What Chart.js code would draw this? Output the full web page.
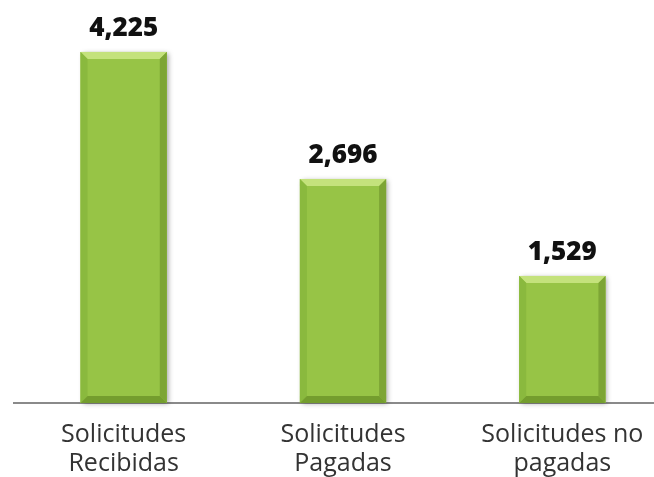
<!DOCTYPE html>
<html>
<head>
<meta charset="utf-8">
<script src="https://cdn.jsdelivr.net/npm/chart.js@4"></script>
<style>
  html, body { margin: 0; padding: 0; background: #fff; overflow: hidden; }
  #wrap { width: 680px; height: 477px; }
</style>
</head>
<body>
<div id="wrap"><canvas id="myBarChart" width="680" height="477"></canvas></div>
<script>
const categories = [['Solicitudes', 'Recibidas'], ['Solicitudes', 'Pagadas'], ['Solicitudes no', 'pagadas']];
const values = [4225, 2696, 1529];
const yMax = 4850;

const bodyColor = '#97c446';

// bevel edges on top of each bar, like the old office charts
const bevelPlugin = {
    id: 'bevel',
    beforeDatasetsDraw(chart) {
        const ctx = chart.ctx;
        chart.getDatasetMeta(0).data.forEach(bar => {
            const l = bar.x - bar.width / 2, t = bar.y;
            ctx.save();
            ctx.shadowColor = 'rgba(0,0,0,0.35)';
            ctx.shadowBlur = 5;
            ctx.shadowOffsetX = 2;
            ctx.shadowOffsetY = 1;
            ctx.fillStyle = bodyColor;
            ctx.fillRect(l, t, bar.width, bar.base - t);
            ctx.restore();
        });
    },
    afterDatasetsDraw(chart) {
        const ctx = chart.ctx;
        const b = 7;
        chart.getDatasetMeta(0).data.forEach(bar => {
            const l = bar.x - bar.width / 2, r = bar.x + bar.width / 2;
            const t = bar.y, bot = bar.base;
            const poly = (pts, color) => {
                ctx.beginPath();
                ctx.moveTo(pts[0][0], pts[0][1]);
                pts.slice(1).forEach(p => ctx.lineTo(p[0], p[1]));
                ctx.closePath();
                ctx.fillStyle = color;
                ctx.fill();
            };
            ctx.save();
            poly([[l, t], [r, t], [r - b, t + b], [l + b, t + b]], '#c4e27c');
            poly([[l, t], [l + b, t + b], [l + b, bot - b], [l, bot]], '#8ab93e');
            poly([[r, t], [r, bot], [r - b, bot - b], [r - b, t + b]], '#7da535');
            poly([[l, bot], [l + b, bot - b], [r - b, bot - b], [r, bot]], '#749d2e');
            ctx.restore();
        });
    }
};

const valueLabels = {
    id: 'valueLabels',
    afterDatasetsDraw(chart) {
        const ctx = chart.ctx;
        ctx.save();
        ctx.font = '800 26px "Open Sans", sans-serif';
        ctx.fillStyle = '#111';
        ctx.textAlign = 'center';
        ctx.textBaseline = 'alphabetic';
        chart.getDatasetMeta(0).data.forEach((bar, i) => {
            ctx.fillText(values[i].toLocaleString('en-US'), bar.x, bar.y - 16);
        });
        ctx.restore();
    }
};

const ctx = document.getElementById('myBarChart').getContext('2d');
new Chart(ctx, {
    type: 'bar',
    data: {
        labels: categories,
        datasets: [{
            data: values,
            backgroundColor: bodyColor,
            borderWidth: 0,
            barPercentage: 0.393,
            categoryPercentage: 1
        }]
    },
    options: {
        responsive: false,
        animation: false,
        layout: { padding: { left: 14, right: 8, top: 0, bottom: 0 } },
        plugins: {
            legend: { display: false },
            title: { display: false },
            tooltip: { enabled: false }
        },
        scales: {
            x: {
                grid: { display: false },
                border: { display: true, color: '#8a8a8a', width: 2 },
                ticks: {
                    color: '#333',
                    padding: 9,
                    font: { family: '"Open Sans", sans-serif', size: 25, lineHeight: 1.16 },
                    maxRotation: 0
                },
                afterFit(scale) { scale.height = 74; }
            },
            y: {
                display: false,
                min: 0,
                max: yMax
            }
        }
    },
    plugins: [bevelPlugin, valueLabels]
});
</script>
</body>
</html>
